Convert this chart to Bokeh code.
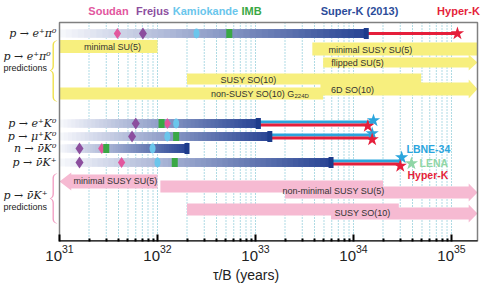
import numpy as np
from bokeh.plotting import figure
from bokeh.models import Range1d, FixedTicker
from bokeh.core.properties import value
from bokeh.embed import file_html
from bokeh.resources import INLINE

# ---------------- data: partial lifetime tau/B in years ----------------
modes      = ["p → e⁺π⁰", "p → e⁺K⁰", "p → μ⁺K⁰", "n → ν̄K⁰", "p → ν̄K⁺"]
soudan     = [3.9e31, 1.26e32, None,    2.7e31, 4.3e31]
frejus     = [7.1e31, 6.0e31,  5.5e31,  1.6e31, 1.6e31]
kamiokande = [2.5e32, 1.55e32, 1.26e32, 8.9e31, 1.0e32]
imb        = [5.4e32, 1.1e32,  1.55e32, 3.0e31, 1.5e32]
superk     = [1.35e34, 1.07e33, 1.4e33, 2.0e32, 5.9e33]
hyperk     = [1.15e35, 1.4e34, 1.55e34, None,  3.0e34]
lbne34     = [None,    1.6e34, 1.55e34, None,  3.1e34]
lena       = [None,    None,   None,    None,  3.9e34]

experiments = ["Soudan", "Frejus", "Kamiokande", "IMB", "Super-K (2013)", "Hyper-K"]

# model predictions (None = open ended)
epi0_names = ["minimal SU(5)", "minimal SUSY SU(5)", "flipped SU(5)",
              "SUSY SO(10)", "non-SUSY SO(10) G", "6D SO(10)"]
epi0_lo = [1e31, 3.8e33, 4.9e33, 2.0e32, 1e31, 4.6e33]
epi0_hi = [1e32, None, None, 4.9e34, 4.9e33, None]
epi0_arrow = [False, False, True, False, False, True]

nuk_names = ["minimal SUSY SU(5)", "non-minimal SUSY SU(5)", "SUSY SO(10)"]
nuk_lo = [None, 1.07e32, 2.0e32]
nuk_hi = [1e32, None, None]
nuk_step_hi = [None, 2.0e34, 2.9e34]   # end of upper part of stepped band
nuk_step_lo = [None, 2.0e33, 5.9e33]   # start of lower (arrow) part

tick_values = [1e31, 1e32, 1e33, 1e34, 1e35]
minor_values = [k * 10**e for e in range(31, 35) for k in range(2, 10)]

# ---------------- layout / style ----------------
DEC = 98.0                      # pixels per decade
BOX_L, BOX_R = 59, 477          # plot box in canvas pixels
XMIN_LOG = 31.0
XMAX_LOG = XMIN_LOG + (BOX_R - BOX_L) / DEC
W, H, BOTTOM = 491, 285, 44
BOX_H = 219


def px(dx):
    """x position dx pixels right of the plot box's left edge (for labels/decoration)."""
    return 10 ** (XMIN_LOG + dx / DEC)


ROW_Y = [11, 101, 114, 126, 140]
EPI0_Y = [24, 26.5, 40, 56.5, 71, 66.5]
EPI0_H = [13, 13, 10, 11, 12, 13]
EPI0_TX = [53, 311, 298, 189, 235, 293]
NUK_Y = [159, 164, 187]
NUK_Y2 = [None, 170, 191]
NUK_TX = [56, 274, 303]
NUK_TY = [158, 168, 190]

YELLOW = "#f7ef7e"
PINK = "#f6bad2"
C_SOUDAN, C_FREJUS, C_KAM, C_IMB = "#e2579e", "#8c4e9e", "#6ac6ec", "#3aa845"
C_SK, C_HK, C_LBNE, C_LENA = "#2c4c9a", "#e51f3b", "#2ba5dd", "#8fd6a6"
exp_colors = [C_SOUDAN, C_FREJUS, C_KAM, C_IMB, C_SK, C_HK]
exp_label_x = [49, 93, 146, 192, 300, 399]

p = figure(width=W, height=H, x_axis_type="log",
           x_range=Range1d(px(-BOX_L), px(W - BOX_L)), y_range=Range1d(BOX_H, -22),
           output_backend="svg", toolbar_location=None,
           min_border_left=0, min_border_right=0, min_border_top=0, min_border_bottom=BOTTOM)
p.yaxis.visible = False
p.ygrid.visible = False
p.xgrid.visible = False
p.outline_line_color = None

ticker = FixedTicker(ticks=tick_values, minor_ticks=minor_values)
p.xaxis.ticker = ticker
p.xaxis.axis_line_color = None
p.xaxis.major_tick_in = 7
p.xaxis.major_tick_out = 0
p.xaxis.minor_tick_in = 3
p.xaxis.minor_tick_out = 0
p.xaxis.major_tick_line_width = 2
p.xaxis.minor_tick_line_width = 2
p.xaxis.major_label_text_font = "Liberation Sans"
p.xaxis.major_label_text_font_size = "15px"
p.xaxis.major_label_text_color = "#222"
p.xaxis.major_label_standoff = 3
p.xaxis.axis_label = "τ/B (years)"
p.xaxis.axis_label_text_font = "Liberation Sans"
p.xaxis.axis_label_text_font_style = "normal"
p.xaxis.axis_label_text_font_size = "14px"
p.xaxis.axis_label_text_color = "#222"
p.xaxis.axis_label_standoff = 3

# dotted grid lines inside the box (major + minor ticks)
grid_x = tick_values[:-1] + minor_values + [tick_values[-1]]
p.segment(x0=grid_x, y0=[0] * len(grid_x), x1=grid_x, y1=[BOX_H] * len(grid_x),
          line_color="#5fb6c9", line_dash="1 2", line_width=1)


def arrow_poly(lo, hi, yc, h, right=False, left=False, head=0.09, hh=3):
    a, b = lo, hi
    if right:
        xs = [a, b - head, b - head, b, b - head, b - head, a]
        ys = [yc - h/2, yc - h/2, yc - h/2 - hh, yc, yc + h/2 + hh, yc + h/2, yc + h/2]
    elif left:
        xs = [b, a + head, a + head, a, a + head, a + head, b]
        ys = [yc - h/2, yc - h/2, yc - h/2 - hh, yc, yc + h/2 + hh, yc + h/2, yc + h/2]
    else:
        xs = [a, b, b, a]
        ys = [yc - h/2, yc - h/2, yc + h/2, yc + h/2]
    return [10**x for x in xs], ys


# ---- yellow p -> e+ pi0 predictions ----
pxs, pys = [], []
for i in range(len(epi0_names)):
    lo = np.log10(epi0_lo[i])
    hi = np.log10(epi0_hi[i]) if epi0_hi[i] is not None else XMAX_LOG
    xs, ys = arrow_poly(lo, hi, EPI0_Y[i], EPI0_H[i], right=epi0_arrow[i])
    pxs.append(xs); pys.append(ys)
p.patches(pxs, pys, fill_color=YELLOW, line_color=None)

# ---- pink p -> nubar K+ predictions ----
pxs, pys = [], []
for i in range(len(nuk_names)):
    if nuk_lo[i] is None:
        xs, ys = arrow_poly(XMIN_LOG, np.log10(nuk_hi[i]), NUK_Y[i], 14, left=True, head=0.12, hh=2)
        pxs.append(xs); pys.append(ys)
    else:
        xs, ys = arrow_poly(np.log10(nuk_lo[i]), np.log10(nuk_step_hi[i]), NUK_Y[i], 12)
        pxs.append(xs); pys.append(ys)
        xs, ys = arrow_poly(np.log10(nuk_step_lo[i]), XMAX_LOG, NUK_Y2[i], 12, right=True)
        pxs.append(xs); pys.append(ys)
p.patches(pxs, pys, fill_color=PINK, line_color=None)

# ---- prediction labels ----
sans = value("Liberation Sans")
for i, name in enumerate(epi0_names):
    align = "right" if name.endswith(" G") else "center"
    p.text(x=[px(EPI0_TX[i])], y=[EPI0_Y[i] + 0.5], text=[name], text_align=align,
           text_baseline="middle", text_font=sans, text_font_size="9px", text_color="#333")
p.text(x=[px(EPI0_TX[4])], y=[EPI0_Y[4] + 2], text=["224D"], text_align="left",
       text_baseline="middle", text_font=sans, text_font_size="6px", text_color="#333")
for i, name in enumerate(nuk_names):
    p.text(x=[px(NUK_TX[i])], y=[NUK_TY[i]], text=[name], text_align="center",
           text_baseline="middle", text_font=sans, text_font_size="9px", text_color="#333")

# ---- gradient experimental bars (overlapping slices, no seams) ----
white = np.array([248, 249, 253])
dark = np.array([40, 68, 148])
N = 50
L, R, Y, C = [], [], [], []
for i in range(len(modes)):
    e = np.linspace(XMIN_LOG, np.log10(superk[i]), N + 1)
    for k in range(N):
        t = (k + 0.5) / N
        c = (white * (1 - t) + dark * t).astype(int)
        L.append(10**e[k]); R.append(superk[i])
        Y.append(ROW_Y[i]); C.append("#%02x%02x%02x" % tuple(c))
p.hbar(y=Y, left=L, right=R, height=8, fill_color=C, line_color=None)

# ---- future sensitivity lines ----
for i in range(len(modes)):
    if hyperk[i] is None:
        continue
    if lbne34[i] is None:
        p.segment(x0=[superk[i]], y0=[ROW_Y[i]], x1=[hyperk[i]], y1=[ROW_Y[i]],
                  line_color=C_HK, line_width=3)
    else:
        p.segment(x0=[superk[i]], y0=[ROW_Y[i] - 1.6], x1=[lbne34[i]], y1=[ROW_Y[i] - 1.6],
                  line_color=C_LBNE, line_width=3)
        p.segment(x0=[superk[i]], y0=[ROW_Y[i] + 1.6], x1=[hyperk[i]], y1=[ROW_Y[i] + 1.6],
                  line_color=C_HK, line_width=3)

# ---- Super-K caps ----
p.rect(x=superk, y=ROW_Y, width=5, height=11, width_units="screen", height_units="screen",
       fill_color="#1d3b8b", line_color=None)

# ---- past experiment markers ----
def pts(vals):
    xs = [v for v in vals if v is not None]
    ys = [ROW_Y[i] for i, v in enumerate(vals) if v is not None]
    return xs, ys

xs, ys = pts(soudan)
p.scatter(xs, ys, marker="diamond", size=11, fill_color=C_SOUDAN, line_color=None)
xs, ys = pts(frejus)
p.scatter(xs, ys, marker="diamond", size=12, fill_color=C_FREJUS, line_color=None)
xs, ys = pts(kamiokande)
p.ellipse(x=xs, y=ys, width=6, height=10, width_units="screen", height_units="screen",
          fill_color=C_KAM, line_color=None)
xs, ys = pts(imb)
p.rect(x=xs, y=ys, width=6, height=9, width_units="screen", height_units="screen",
       fill_color=C_IMB, line_color=None)

# ---- stars ----
star_off = {"lbne": [0, -3, -3, 0, -5], "hk": [0, 2.5, 3, 0, 3.5], "lena": [0, 0, 0, 0, 1]}
for vals, key, col in [(lbne34, "lbne", C_LBNE), (lena, "lena", C_LENA), (hyperk, "hk", C_HK)]:
    xs, ys = [], []
    for i, v in enumerate(vals):
        if v is not None:
            xs.append(v); ys.append(ROW_Y[i] + star_off[key][i])
    p.scatter(xs, ys, marker="star", size=14, fill_color=col, line_color=None)

# future experiment labels near p -> nubar K+
for txt, x, y, col in [("LBNE-34", 347, 126, C_LBNE), ("LENA", 360, 140.5, C_LENA),
                       ("Hyper-K", 348, 152, C_HK)]:
    p.text(x=[px(x)], y=[y], text=[txt], text_align="left", text_baseline="middle",
           text_font=sans, text_font_style="bold", text_font_size="10.5px", text_color=col)

# ---- plot box: grey outline, black bottom axis line ----
p.quad(left=[px(0)], right=[px(BOX_R - BOX_L)], top=[0], bottom=[BOX_H],
       fill_color=None, line_color="#808080", line_width=1.5)
p.segment(x0=[px(0)], y0=[BOX_H - 0.5], x1=[px(BOX_R - BOX_L)], y1=[BOX_H - 0.5],
          line_color="black", line_width=1.5)

# ---- experiment names above the box ----
for name, col, x in zip(experiments, exp_colors, exp_label_x):
    p.text(x=[px(x)], y=[-12], text=[name], text_align="center", text_baseline="middle",
           text_font=sans, text_font_style="bold", text_font_size="11px", text_color=col)

# ---- decay mode labels left of the box ----
serif = value("DejaVu Serif")
p.text(x=[px(-3)] * len(modes), y=ROW_Y, text=modes, text_align="right", text_baseline="middle",
       text_font=serif, text_font_style="italic", text_font_size="11px", text_color="#222")

for name, y, yp in [("p → e⁺π⁰", 34, 45), ("p → ν̄K⁺", 173, 184)]:
    p.text(x=[px(-56)], y=[y], text=[name], text_align="left", text_baseline="middle",
           text_font=serif, text_font_style="italic", text_font_size="11px", text_color="#222")
    p.text(x=[px(-56)], y=[yp], text=["predictions"], text_align="left", text_baseline="middle",
           text_font=sans, text_font_size="9px", text_color="#222")


def brace(yt, yb, ym, xe=-2.0, xsp=-7.0, xt=-11.0, r=5.0, w=1.4):
    def qb(p0, c, p1, n=8):
        t = np.linspace(0, 1, n)
        return [((1-s)**2*p0[0] + 2*(1-s)*s*c[0] + s**2*p1[0],
                 (1-s)**2*p0[1] + 2*(1-s)*s*c[1] + s**2*p1[1]) for s in t]
    path = (qb((xe, yt), (xsp, yt), (xsp, yt + r)) +
            qb((xsp, ym - r), (xsp, ym), (xt, ym)) +
            qb((xt, ym), (xsp, ym), (xsp, ym + r)) +
            qb((xsp, yb - r), (xsp, yb), (xe, yb)))
    fx = [q[0] for q in path]; fy = [q[1] for q in path]
    bx = [q[0] + w for q in path][::-1]; by = fy[::-1]
    return [px(v) for v in fx + bx], fy + by

bxs, bys, bcs = [], [], []
for (yt, yb, ym), col in [((18, 79, 48), "#efe04a"), ((151, 201, 176), "#f2a0c4")]:
    a, b = brace(yt, yb, ym)
    bxs.append(a); bys.append(b); bcs.append(col)
p.patches(bxs, bys, fill_color=bcs, line_color=None)

open("out.html", "w").write(file_html(p, INLINE))
